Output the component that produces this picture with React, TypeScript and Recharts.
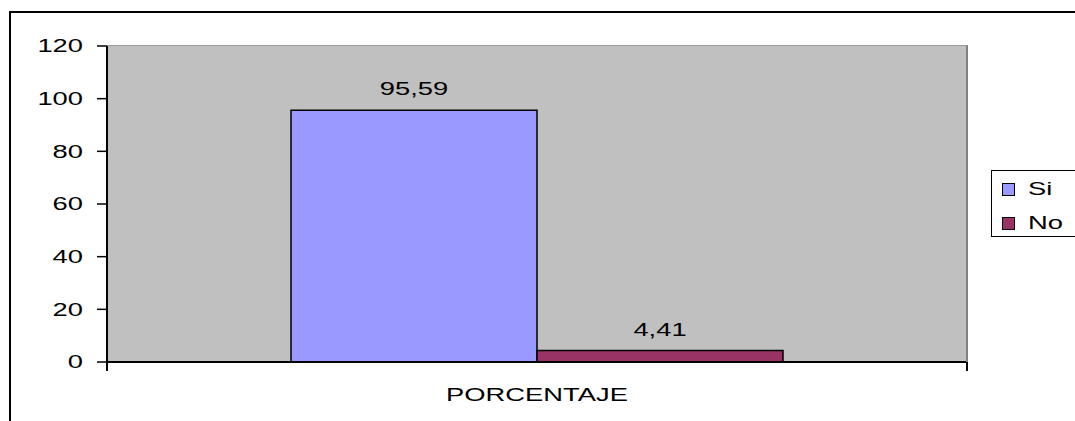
import React from 'react'
import { BarChart, Bar, XAxis, YAxis, CartesianGrid, LabelList } from 'recharts'

const categories = ['PORCENTAJE']
const siValues = [95.59]
const noValues = [4.41]
const yTicks = [0, 20, 40, 60, 80, 100, 120]
const seriesNames = ['Si', 'No']
const seriesColors = ['#9999FF', '#993366']

const data = categories.map((name, i) => ({ name, si: siValues[i], no: noValues[i] }))

// the original text is stretched horizontally
const SX = 1.52
const FS = 18
const FONT = '"Liberation Sans", Arial, sans-serif'

const fmt = (v: number) => String(v).replace('.', ',')

function YTick(props: any) {
  const { x, y, payload } = props
  return (
    <text
      transform={`translate(${x},${y}) scale(${SX},1)`}
      textAnchor="end"
      dominantBaseline="central"
      fontSize={FS}
      fontFamily={FONT}
      fill="#000"
    >
      {payload.value}
    </text>
  )
}

function XTick(props: any) {
  const { x, y, payload } = props
  return (
    <text
      transform={`translate(${x},${y + 33}) scale(${SX},1)`}
      textAnchor="middle"
      dominantBaseline="central"
      fontSize={FS}
      fontFamily={FONT}
      fill="#000"
    >
      {payload.value}
    </text>
  )
}

function ValueLabel(props: any) {
  const { x, y, width, value } = props
  return (
    <text
      transform={`translate(${x + width / 2},${y - 21}) scale(${SX},1)`}
      textAnchor="middle"
      dominantBaseline="central"
      fontSize={FS}
      fontFamily={FONT}
      fill="#000"
    >
      {fmt(value)}
    </text>
  )
}

function LegendBox() {
  return (
    <div
      style={{
        position: 'absolute',
        left: 991,
        top: 170,
        width: 100,
        height: 67,
        border: '1px solid #000',
        background: '#fff',
        boxSizing: 'border-box',
        fontFamily: FONT,
        fontSize: FS,
        paddingTop: 1,
      }}
    >
      {seriesNames.map((n, i) => (
        <div key={n} style={{ display: 'flex', alignItems: 'center', height: 34, marginLeft: 10 }}>
          <div style={{ width: 11, height: 11, background: seriesColors[i], border: '1px solid #000', flexShrink: 0 }} />
          <span style={{ display: 'inline-block', transform: `scaleX(${SX})`, transformOrigin: 'left center', marginLeft: 13, lineHeight: '18px' }}>
            {n}
          </span>
        </div>
      ))}
    </div>
  )
}

export default function App() {
  return (
    <div style={{ position: 'fixed', left: 0, top: 0, width: 1075, height: 421, overflow: 'hidden', background: '#fff' }}>
      <div style={{ position: 'absolute', left: 9, top: 11, width: 1200, height: 600, borderLeft: '2px solid #000', borderTop: '2px solid #000' }} />
      <BarChart
        width={1075}
        height={421}
        data={data}
        margin={{ top: 46, right: 108, left: 0, bottom: 29 }}
        barGap={0}
        style={{ position: 'absolute', left: 0, top: 0 }}
      >
        <CartesianGrid fill="#C0C0C0" horizontal={false} vertical={false} />
        <XAxis
          dataKey="name"
          height={30}
          tickSize={0}
          tickMargin={0}
          tick={<XTick />}
          axisLine={{ stroke: '#000', strokeWidth: 2 }}
          tickLine={false}
        />
        <YAxis
          width={107}
          domain={[0, 120]}
          ticks={yTicks}
          interval={0}
          tickSize={10}
          tickMargin={14}
          tick={<YTick />}
          axisLine={{ stroke: '#000', strokeWidth: 2 }}
          tickLine={{ stroke: '#000', strokeWidth: 1.5 }}
        />
        <Bar dataKey="si" name={seriesNames[0]} fill={seriesColors[0]} stroke="#000" strokeWidth={1.5} barSize={246} isAnimationActive={false}>
          <LabelList dataKey="si" content={<ValueLabel />} />
        </Bar>
        <Bar dataKey="no" name={seriesNames[1]} fill={seriesColors[1]} stroke="#000" strokeWidth={1.5} barSize={246} isAnimationActive={false}>
          <LabelList dataKey="no" content={<ValueLabel />} />
        </Bar>
      </BarChart>
      {/* plot frame: light top edge, darker right edge */}
      <div style={{ position: 'absolute', left: 107, top: 45, width: 859, height: 317, borderTop: '1px solid #9a9a9a', borderRight: '2px solid #808080', pointerEvents: 'none' }} />
      <div style={{ position: 'absolute', left: 106, top: 362, width: 2, height: 9, background: '#000' }} />
      <div style={{ position: 'absolute', left: 966, top: 362, width: 2, height: 9, background: '#000' }} />
      <LegendBox />
    </div>
  )
}
